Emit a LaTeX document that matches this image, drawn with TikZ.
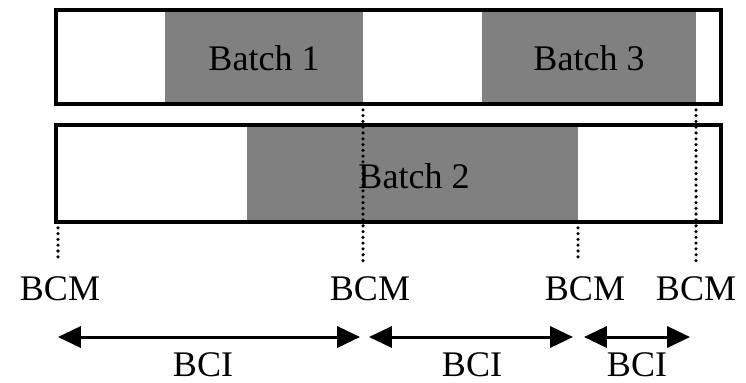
\documentclass[tikz,border=0pt]{standalone}
\usepackage{fontspec}
\setmainfont{Liberation Serif}
\usetikzlibrary{positioning, arrows.meta, calc}

\begin{document}
\begin{tikzpicture}[x=0.02cm, y=-0.02cm, font=\fontsize{20.5}{24}\selectfont,
    bar/.style={line width=2pt},
    batch/.style={fill=black!50},
    markline/.style={line width=2pt, line cap=round, dash pattern=on 0pt off 3.3pt},
    span/.style={line width=1.7pt, {Triangle[length=13pt,width=12pt]}-{Triangle[length=13pt,width=12pt]}}]
        \useasboundingbox (0,0) rectangle (746,382);

        % batches
        \fill[batch] (165,10) rectangle (363,104);
        \fill[batch] (482,10) rectangle (696,104);
        \fill[batch] (247,125) rectangle (578,222);
        \node (b1) at (264,58) {Batch 1};
        \node (b3) at (589,58) {Batch 3};
        \node (b2) at (414,176) {Batch 2};

        % bars
        \draw[bar] (56,10) rectangle (721,104);
        \draw[bar] (56,125) rectangle (721,222);

        % marks
        \foreach \i/\x/\top/\lx in {1/58/222/60, 2/363/104/370, 3/578/222/585, 4/696/104/696} {
          \coordinate (t\i) at (\x,\top);
          \coordinate (m\i) at (\x,262);
          \draw[markline] (t\i) -- (m\i);
          \node (bcm\i) at (\lx,289) {BCM};
        }

        % intervals
        \coordinate (s1) at (58,337);
        \coordinate (e1) at (360,337);
        \coordinate (s2) at (369,337);
        \coordinate (e2) at (573,337);
        \coordinate (s3) at (584,337);
        \coordinate (e3) at (690,337);
        \foreach \i/\lx in {1/203, 2/472, 3/637} {
          \draw[span] (s\i) -- (e\i);
          \node (bci\i) at (\lx,365) {BCI};
        }
      \end{tikzpicture}
\end{document}
